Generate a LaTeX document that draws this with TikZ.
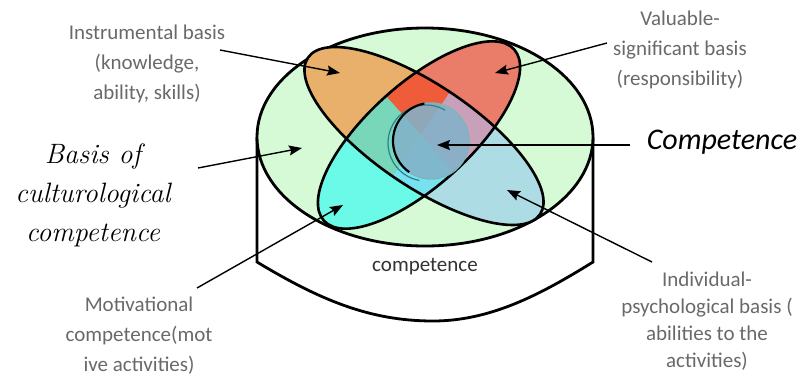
\documentclass[tikz,border=0pt]{standalone}
\usepackage{fontspec}
\setsansfont{Carlito}
\usepackage{tikz}
\usetikzlibrary{arrows.meta}
\definecolor{basisgreen}{RGB}{213,250,213}
\definecolor{instrorange}{RGB}{232,176,106}
\definecolor{valuered}{RGB}{234,124,106}
\definecolor{motivcyan}{RGB}{108,250,232}
\definecolor{indivblue}{RGB}{173,220,228}
\definecolor{corecolor}{RGB}{130,178,200}
\definecolor{coreedge}{RGB}{40,130,145}
\definecolor{labelgray}{RGB}{105,105,105}
\definecolor{mixOR}{RGB}{238,92,58}
\definecolor{mixOC}{RGB}{120,215,185}
\definecolor{mixRB}{RGB}{200,160,185}
\definecolor{mixCB}{RGB}{120,225,240}
\tikzset{
    notetext/.style={font=\sffamily\fontsize{21}{30}\selectfont, text=labelgray, align=center},
    arrow/.style={-{Stealth[length=13pt,width=10pt,inset=2pt]}, line width=1.4pt},
    petal/.style={line width=2.6pt},
    shell/.style={line width=2.8pt},
    aframe/.style={rotate around={-34:(424,136)}},
    bframe/.style={rotate around={42:(419,135)}}
}
\begin{document}
\begin{tikzpicture}[x=1pt, y=-1pt]
    \useasboundingbox (0,0) rectangle (801,376);

    % Cylinder wall and body
    \draw[shell] (257,137) -- (257,262) .. controls (320,300) and (370,321) .. (433,321) .. controls (490,321) and (540,295) .. (593,262) -- (593,137);
    \draw[shell, fill=basisgreen] (425,137) ellipse [x radius=168, y radius=109];

    % Petal halves of the NW-SE ellipse
    \begin{scope}
        \clip[aframe] (424,136) ellipse [x radius=140, y radius=51];
        \fill[instrorange, aframe] (270,70) rectangle (424,200);
        \fill[indivblue, aframe] (424,70) rectangle (580,200);
    \end{scope}
    % Petal halves of the NE-SW ellipse
    \begin{scope}
        \clip[bframe] (419,135) ellipse [x radius=128, y radius=51];
        \fill[motivcyan, bframe] (270,70) rectangle (419,200);
        \fill[valuered, bframe] (419,70) rectangle (570,200);
    \end{scope}

    % Overlaps in the middle
    \begin{scope}
        \clip[aframe] (424,136) ellipse [x radius=140, y radius=51];
        \clip[bframe] (419,135) ellipse [x radius=128, y radius=51];
        \fill[mixOR] (421,135) -- +(-56:150) -- +(-94:150) -- +(-132:150) -- cycle;
        \fill[mixOC] (421,135) -- +(-132:150) -- +(-184:150) -- +(-236:150) -- cycle;
        \fill[mixCB] (421,135) -- +(-236:150) -- +(-274:150) -- +(-312:150) -- cycle;
        \fill[mixRB] (421,135) -- +(48:150) -- +(-4:150) -- +(-56:150) -- cycle;
    \end{scope}

    % Petal outlines
    \draw[petal, aframe] (424,136) ellipse [x radius=140, y radius=51];
    \draw[petal, bframe] (419,135) ellipse [x radius=128, y radius=51];

    % Core
    \fill[corecolor, opacity=0.88] (431,141) circle [radius=38];
    \draw[coreedge, line width=1.2pt] (426,143) ++(-60:38) arc [start angle=-60, end angle=-260, radius=38];
    \draw[coreedge!60, line width=1.4pt] (431,141) circle [radius=38];
    \draw[line width=2.2pt] (431,141) ++(-100:38) arc [start angle=-100, end angle=-235, radius=38];

    % Labels
    \node[notetext] (instr) at (147,64) {Instrumental basis\\(knowledge,\\ability, skills)};
    \node[notetext] (value) at (680,50) {Valuable-\\significant basis\\(responsibility)};
    \node[font=\sffamily\itshape\fontsize{30}{34}\selectfont] (comp) at (722,142) {Competence};
    \node[font=\itshape\fontsize{28}{39}\selectfont, align=center] (basis) at (93,195) {Basis of\\culturological\\competence};
    \node[notetext] (motiv) at (139,336) {Motivational\\competence(mot\\ive activities)};
    \node[notetext, font=\sffamily\fontsize{21}{27}\selectfont] (indiv) at (707,321) {Individual-\\psychological basis (\\abilities to the\\activities)};
    \node[font=\sffamily\fontsize{21}{25}\selectfont, text=black!80] (whole) at (425,267) {competence};

    % Arrow ends
    \coordinate (instr-from) at (220,50);
    \coordinate (instr-tip) at (340,73);
    \coordinate (value-from) at (607,43);
    \coordinate (value-tip) at (495,73);
    \coordinate (comp-from) at (630,145);
    \coordinate (comp-tip) at (437,145);
    \coordinate (basis-from) at (198,168);
    \coordinate (basis-tip) at (302,148);
    \coordinate (motiv-from) at (197,288);
    \coordinate (motiv-tip) at (343,205);
    \coordinate (indiv-from) at (652,262);
    \coordinate (indiv-tip) at (507,190);

    % Arrows
    \draw[arrow] (instr-from) -- (instr-tip);
    \draw[arrow] (value-from) -- (value-tip);
    \draw[arrow] (comp-from) -- (comp-tip);
    \draw[arrow] (basis-from) -- (basis-tip);
    \draw[arrow] (motiv-from) -- (motiv-tip);
    \draw[arrow] (indiv-from) -- (indiv-tip);
\end{tikzpicture}
\end{document}
